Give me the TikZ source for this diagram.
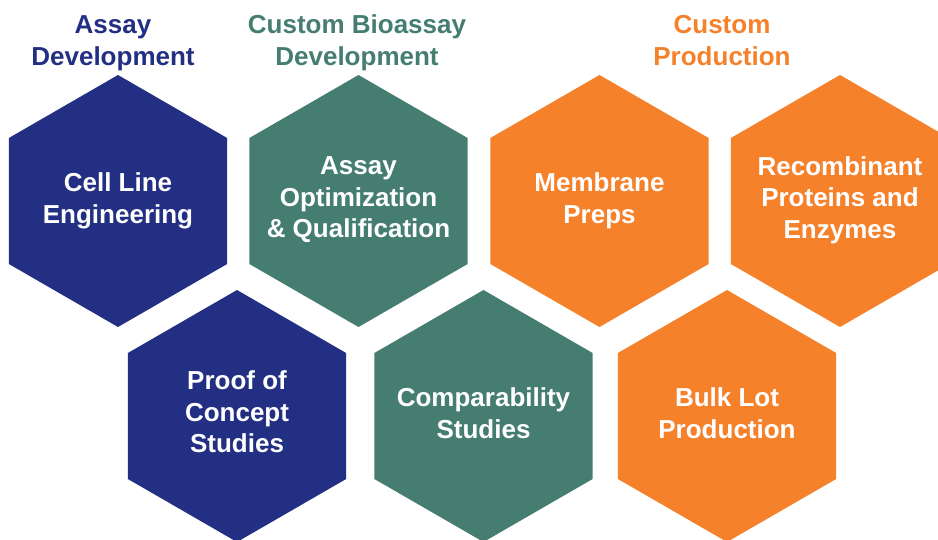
\documentclass[tikz,border=0pt]{standalone}
\usepackage{fontspec}
\setmainfont{Liberation Sans}
\usetikzlibrary{calc}
\definecolor{navy}{HTML}{232F82}
\definecolor{teal}{HTML}{457E71}
\definecolor{orng}{HTML}{F5812B}
\tikzset{
  hextext/.style={text=white, align=center, inner sep=0pt,
    font=\fontsize{26}{31.5}\selectfont\bfseries},
  title/.style={text=#1, align=center, font=\fontsize{26}{32}\selectfont\bfseries, inner sep=0pt}
}
\newcommand{\hexfill}[2]{%
  \fill[#2] ($(#1)+(90:126)$) -- ($(#1)+(30:126)$) -- ($(#1)+(-30:126)$) --
    ($(#1)+(-90:126)$) -- ($(#1)+(-150:126)$) -- ($(#1)+(150:126)$) -- cycle;}
\begin{document}
\begin{tikzpicture}[x=1pt,y=-1pt]
\useasboundingbox (0,0) rectangle (938,539);
\clip (0,0) rectangle (938,539);
\fill[white] (0,0) rectangle (938,539);
% titles
\node[title=navy] (t1) at (113,43) {Assay\\Development};
\node[title=teal] (t2) at (357,43) {Custom Bioassay\\Development};
\node[title=orng] (t3) at (722,41) {Custom\\Production};
% centres
\coordinate (c1) at (118,201);
\coordinate (c2) at (358.5,201);
\coordinate (c3) at (599.5,201);
\coordinate (c4) at (840,201);
\coordinate (c5) at (237,416);
\coordinate (c6) at (483.5,416);
\coordinate (c7) at (727,416);
\hexfill{c1}{navy}
\hexfill{c2}{teal}
\hexfill{c3}{orng}
\hexfill{c4}{orng}
\hexfill{c5}{navy}
\hexfill{c6}{teal}
\hexfill{c7}{orng}
% texts
\node[hextext] (h1) at ($(c1)+(0,0)$) {Cell Line\\Engineering};
\node[hextext] (h2) at ($(c2)+(0,-1)$) {Assay\\Optimization\\\& Qualification};
\node[hextext] (h3) at ($(c3)+(0,0)$) {Membrane\\Preps};
\node[hextext] (h4) at ($(c4)+(0,-1)$) {Recombinant\\Proteins and\\Enzymes};
\node[hextext] (h5) at ($(c5)+(0,-4)$) {Proof of\\Concept\\Studies};
\node[hextext] (h6) at ($(c6)+(0,-3)$) {Comparability\\Studies};
\node[hextext] (h7) at ($(c7)+(0,-3)$) {Bulk Lot\\Production};
\end{tikzpicture}
\end{document}
